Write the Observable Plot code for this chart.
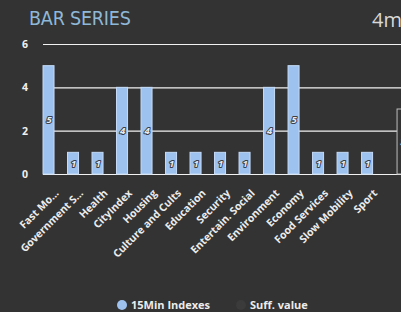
<!DOCTYPE html>
<html>
<head>
<meta charset="utf-8">
<script src="https://cdn.jsdelivr.net/npm/d3@7"></script>
<script src="https://cdn.jsdelivr.net/npm/@observablehq/plot@0.6"></script>
<style>
  html, body { margin: 0; padding: 0; background: #333333; overflow: hidden; }
  #wrap { position: relative; width: 401px; height: 312px; background: #333333; font-family: "Open Sans", "DejaVu Sans", sans-serif; overflow: hidden; }
  #title { position: absolute; left: 29px; top: 7px; font-family: "Liberation Sans Narrow", "DejaVu Sans Condensed", sans-serif; font-size: 19.5px; color: #8fb8d8; letter-spacing: -0.2px; }
  #right { position: absolute; left: 372px; top: 6px; font-family: "Open Sans", sans-serif; font-size: 20px; color: #d8d8d8; white-space: nowrap; }
  #legend { position: absolute; left: 117px; top: 297px; font-size: 11px; font-weight: 700; color: #ececec; display: flex; align-items: center; white-space: nowrap; }
  .dot { display: inline-block; width: 10px; height: 10px; border-radius: 50%; margin-right: 4px; }
  svg { position: absolute; left: 0; top: 0; }
</style>
</head>
<body>
<div id="wrap">
  <div id="chart"></div>
  <div id="title">BAR SERIES</div>
  <div id="right">4m</div>
  <div id="legend">
    <span class="dot" style="background:#9ec2f0"></span><span>15Min Indexes</span>
    <span class="dot" style="background:#3b3b3b; margin-left:26px"></span><span>Suff. value</span>
  </div>
</div>
<script>
const categories = ["Fast Mo...", "Government S...", "Health", "CityIndex", "Housing", "Culture and Cults", "Education", "Security", "Entertain. Social", "Environment", "Economy", "Food Services", "Slow Mobility", "Sport"];
const indexValues = [5, 1, 1, 4, 4, 1, 1, 1, 1, 4, 5, 1, 1, 1];
const suffCategory = "_extra";
const suffValues = [3];
const yTicks = [0, 2, 4, 6];

const barData = categories.map((c, i) => ({cat: c, value: indexValues[i]}));
const suffData = suffValues.map(v => ({cat: suffCategory, value: v}));

const chart = Plot.plot({
  width: 401,
  height: 312,
  marginTop: 44,
  marginBottom: 138,
  marginLeft: 43,
  marginRight: 0,
  style: {background: "transparent", color: "#eeeeee", fontFamily: "Open Sans, sans-serif"},
  x: {domain: [...categories, suffCategory], paddingInner: 0.55, paddingOuter: 0.08, align: 0, round: false, axis: null},
  y: {domain: [0, 6], axis: null},
  marks: [
    Plot.ruleY(yTicks, {stroke: "#f2f2f2", strokeWidth: 1.2}),
    Plot.barY(suffData, {x: "cat", y: "value", dx: 11, fill: "#333333", stroke: "#bdbdbd", strokeWidth: 1}),
    Plot.text(suffData, {x: "cat", y: d => d.value / 2, dx: 11, text: d => String(d.value), fill: "#e6ecf4", stroke: "#3a3f48", strokeWidth: 2, fontSize: 9.5, fontWeight: 700, fontStyle: "italic"}),
    Plot.barY(barData, {x: "cat", y: "value", fill: "#9ec2f0", stroke: "#c4daf6", strokeWidth: 1}),
    Plot.text(barData, {x: "cat", y: d => d.value / 2, text: d => String(d.value), fill: "#e6ecf4", stroke: "#3a3f48", strokeWidth: 2, fontSize: 9.5, fontWeight: 700, fontStyle: "italic"}),
    Plot.text(yTicks, {x: () => categories[0], y: d => d, text: d => String(d), frameAnchor: "left", dx: -27, fill: "#f0f0f0", fontSize: 10.5, fontWeight: 700}),
    Plot.text(categories, {x: d => d, y: () => 0, text: d => d, textAnchor: "end", rotate: -45, dx: 8, dy: 17, fill: "#ececec", fontSize: 10.5, fontWeight: 700})
  ]
});
document.getElementById("chart").appendChild(chart);
</script>
</body>
</html>
